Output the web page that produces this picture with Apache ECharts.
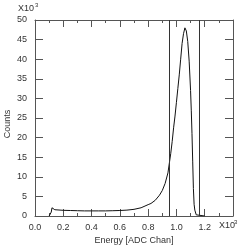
<!DOCTYPE html>
<html><head><meta charset="utf-8">
<script src="https://cdn.jsdelivr.net/npm/echarts@6/dist/echarts.min.js"></script>
<style>html,body{margin:0;padding:0;background:#fff}#c{width:240px;height:250px}</style>
</head><body><div id="c"></div>
<script>
// energy in units of 10^3 ADC channels, counts in units of 10^3
const energy = [0.10,0.11,0.115,0.12,0.13,0.14,0.15,0.20,0.25,0.30,0.35,0.40,0.45,0.50,0.55,0.60,0.65,0.70,0.75,0.80,0.82,0.85,0.88,0.90,0.92,0.94,0.95,0.96,0.97,0.98,0.99,1.00,1.01,1.02,1.03,1.04,1.05,1.06,1.065,1.07,1.08,1.09,1.10,1.105,1.11,1.115,1.12,1.125,1.13,1.14,1.15,1.20];
const counts = [0,0,1.0,2.1,1.8,1.6,1.5,1.45,1.4,1.35,1.3,1.3,1.3,1.3,1.35,1.4,1.5,1.7,2.1,2.9,3.2,4.0,5.3,6.5,8.3,11,13.5,16,19,22.5,25.5,29,32.5,36,40,44,46.5,48,48.3,47.2,44.5,39.5,32,27,21,14,7,3,1.5,0.3,0,0];
const cutLines = [0.95, 1.155];
const xTickLabels = ['0.0','0.2','0.4','0.6','0.8','1.0','1.2',''];
const yTickLabels = ['0','5','10','15','20','25','30','35','40','45','50'];

const axisColor = '#555';
const font = 'Liberation Sans, Arial, sans-serif';
const chart = echarts.init(document.getElementById('c'));
const common = {
  axisLine:{show:true,onZero:false,lineStyle:{color:axisColor,width:1}},
  splitLine:{show:false}
};
chart.setOption({
  animation:false,
  grid:{left:35,right:7,top:20,bottom:34,containLabel:false,outerBoundsMode:'none'},
  graphic:[{type:'text',left:18,top:4,style:{text:'X10',font:'9px '+font,fill:'#333'}},
           {type:'text',left:35,top:2,style:{text:'3',font:'6px '+font,fill:'#333'}},
           {type:'text',left:219,top:221,style:{text:'X10',font:'9px '+font,fill:'#333'}},
           {type:'text',left:234,top:219,style:{text:'3',font:'6px '+font,fill:'#333'}},
           {type:'text',x:8,y:124,rotation:Math.PI/2,
            style:{text:'Counts',font:'9px '+font,fill:'#333',align:'center',verticalAlign:'middle'}}],
  xAxis:[
    Object.assign({type:'value',min:0,max:1.4,interval:0.2,position:'bottom',
      name:'Energy [ADC Chan]',nameLocation:'middle',nameGap:20,nameMoveOverlap:false,
      nameTextStyle:{fontSize:9,fontFamily:font,color:'#333'},
      axisTick:{show:true,inside:true,length:7,lineStyle:{color:axisColor}},
      minorTick:{show:true,splitNumber:2,length:3,lineStyle:{color:axisColor}},
      axisLabel:{fontSize:9,fontFamily:font,color:'#333',margin:7,
        formatter:(v)=>xTickLabels[Math.round(v/0.2)]}},common),
    Object.assign({type:'value',min:0,max:1.4,interval:0.2,position:'top',
      axisTick:{show:true,inside:true,length:7,lineStyle:{color:axisColor}},
      minorTick:{show:true,splitNumber:2,length:3,lineStyle:{color:axisColor}},
      axisLabel:{show:false}},common)
  ],
  yAxis:[
    Object.assign({type:'value',min:0,max:50,interval:5,position:'left',
      axisTick:{show:true,inside:true,length:8,lineStyle:{color:axisColor}},
      axisLabel:{fontSize:9,fontFamily:font,color:'#333',margin:8,
        formatter:(v)=>yTickLabels[Math.round(v/5)]}},common),
    Object.assign({type:'value',min:0,max:50,interval:5,position:'right',
      axisTick:{show:true,inside:true,length:8,lineStyle:{color:axisColor}},
      axisLabel:{show:false}},common)
  ],
  series:[{
    type:'line',xAxisIndex:0,yAxisIndex:0,
    data:energy.map((e,i)=>[e,counts[i]]),
    showSymbol:false,
    lineStyle:{color:'#111',width:1},
    markLine:{symbol:'none',silent:true,label:{show:false},
      lineStyle:{color:'#333',width:1,type:'solid'},
      data:cutLines.map(v=>({xAxis:v}))}
  }]
});
</script></body></html>
